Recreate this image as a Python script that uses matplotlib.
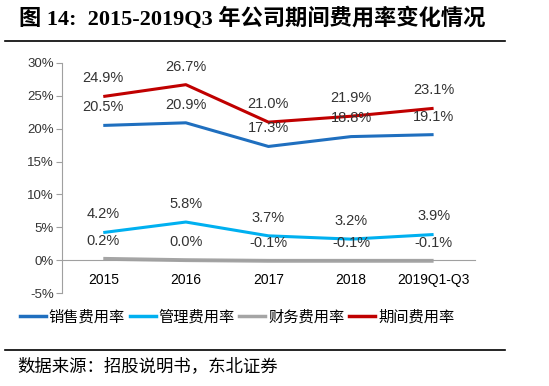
import matplotlib
matplotlib.use("Agg")
import matplotlib.pyplot as plt
from matplotlib.lines import Line2D

categories = ["2015", "2016", "2017", "2018", "2019Q1-Q3"]
sales = [20.5, 20.9, 17.3, 18.8, 19.1]
admin = [4.2, 5.8, 3.7, 3.2, 3.9]
finance = [0.2, 0.0, -0.1, -0.1, -0.1]
total = [24.9, 26.7, 21.0, 21.9, 23.1]
series_names = ["销售费用率", "管理费用率", "财务费用率", "期间费用率"]
colors = ["#1F6FBF", "#00B0F0", "#A5A5A5", "#C00000"]
yticks = [-5, 0, 5, 10, 15, 20, 25, 30]

plt.rcParams['font.family'] = ['Liberation Sans', 'Noto Sans CJK SC', 'DejaVu Sans']

fig = plt.figure(figsize=(5.49, 3.86), dpi=100)
ax = fig.add_axes([0.1129, 0.2409, 0.865 - 0.1129, 0.8368 - 0.2409])

x = list(range(len(categories)))
data = [sales, admin, finance, total]
lws = [2.2, 2.2, 2.8, 2.2]
for vals, c, lw, name in zip(data, colors, lws, series_names):
    ax.plot(x, vals, color=c, lw=lw, label=name, solid_capstyle='butt')

for vals in data:
    for xi, v in zip(x, vals):
        ax.annotate(f"{v:.1f}%", (xi, v), xytext=(0, 8), textcoords='offset points',
                    ha='center', va='bottom', fontsize=10.5, color='#333333',
                    family=['Liberation Sans', 'Noto Sans CJK SC'])

ax.set_xlim(-0.5, 4.5)
ax.set_ylim(-5, 30)
ax.set_yticks(yticks)
ax.set_yticklabels([f"{t}%" for t in yticks], fontsize=9.5, color='#333333')
ax.set_xticks(x)
ax.set_xticklabels(categories, fontsize=9.5, color='#333333')
ax.spines['top'].set_visible(False)
ax.spines['right'].set_visible(False)
ax.spines['bottom'].set_position(('data', 0))
ax.spines['bottom'].set_color('#A0A0A0')
ax.spines['left'].set_color('#A0A0A0')
ax.tick_params(axis='x', length=0, pad=9)
ax.tick_params(axis='y', length=4, color='#A0A0A0', direction='out', pad=2)

handles = [Line2D([0], [0], color=c, lw=2.5) for c in colors]
fig.legend(handles, series_names, loc='center left', bbox_to_anchor=(0.022, 0.179),
           ncol=4, frameon=False, handlelength=1.7, handletextpad=0.2,
           columnspacing=0.3, borderpad=0, prop={'family': ['Noto Sans CJK SC'], 'size': 11})

fig.text(0.035, 0.953, "图 14:  2015-2019Q3 年公司期间费用率变化情况", fontsize=16,
         fontweight='bold', family=['Liberation Serif', 'Noto Sans CJK SC'], va='center', ha='left')
fig.add_artist(Line2D([0.009, 0.92], [0.894, 0.894], color='black', lw=1.2))
fig.add_artist(Line2D([0.009, 0.92], [0.093, 0.093], color='black', lw=1.2))
fig.text(0.031, 0.052, "数据来源：招股说明书，东北证券", fontsize=12.5,
         family=['Noto Sans CJK SC'], va='center', ha='left')

fig.savefig("out.png", dpi=100)
